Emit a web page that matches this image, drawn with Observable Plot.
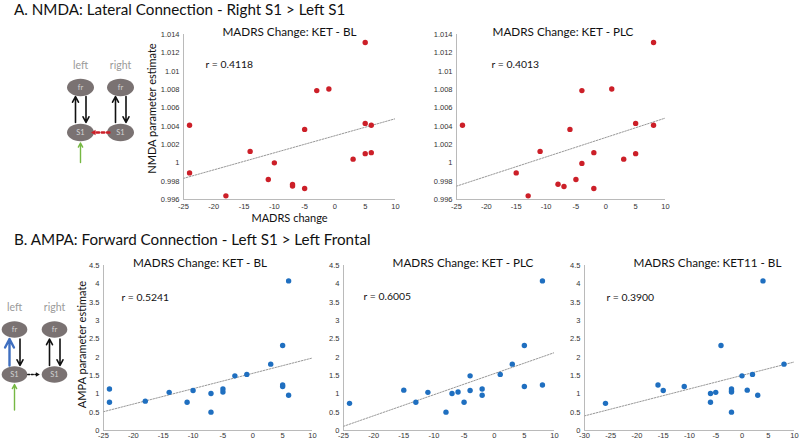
<!DOCTYPE html>
<html>
<head>
<meta charset="utf-8">
<script src="https://cdn.jsdelivr.net/npm/d3@7"></script>
<script src="https://cdn.jsdelivr.net/npm/@observablehq/plot@0.6"></script>
<style>
html, body { margin: 0; padding: 0; background: #fff; }
#fig { position: relative; width: 800px; height: 440px; overflow: hidden; background: #fff; font-family: Lato, sans-serif; }
.heading { position: absolute; left: 14px; font-size: 15.2px; line-height: 14px; color: #111; white-space: nowrap; font-family: Lato, sans-serif; }
</style>
</head>
<body>
<div id="fig"></div>
<script>
// ---------------- DATA ----------------
const headings = [
  "A. NMDA: Lateral Connection - Right S1 > Left S1",
  "B. AMPA: Forward Connection - Left S1 > Left Frontal"
];
const panelTitles = [
  "MADRS Change: KET - BL", "MADRS Change: KET - PLC",
  "MADRS Change: KET - BL", "MADRS Change: KET - PLC", "MADRS Change: KET11 - BL"
];
const rLabels = ["r = 0.4118", "r = 0.4013", "r = 0.5241", "r = 0.6005", "r = 0.3900"];
const yLabels = ["NMDA parameter estimate", "AMPA parameter estimate"];
const xLabel = "MADRS change";

const madrsTicks = [-25, -20, -15, -10, -5, 0, 5, 10];
const madrsTicksWide = [-30, -25, -20, -15, -10, -5, 0, 5, 10];
const nmdaTicks = [0.996, 0.998, 1, 1.002, 1.004, 1.006, 1.008, 1.01, 1.012, 1.014];
const ampaTicks = [0, 0.5, 1, 1.5, 2, 2.5, 3, 3.5, 4, 4.5];

// A. NMDA, KET - BL
const nmdaKetBL_madrs = [-24, -24, -18, -14, -11, -10, -7, -7, -5, -5, -3, -1, 3, 5, 5, 5, 6, 6];
const nmdaKetBL_param = [1.0041, 0.9989, 0.9964, 1.00125, 0.99819, 1.0, 0.99764, 0.99746, 0.9972, 1.00365, 1.00788, 1.00806, 1.0004, 1.01313, 1.0043, 1.0010, 1.0041, 1.00111];
// A. NMDA, KET - PLC
const nmdaKetPLC_madrs = [-24, -15, -13, -11, -8, -7, -6, -5, -4, -4, -2, -2, 1, 3, 5, 5, 8, 8];
const nmdaKetPLC_param = [1.0041, 0.9989, 0.9964, 1.00125, 0.99767, 0.99742, 1.00365, 0.99819, 1.00788, 0.99994, 1.00111, 0.9972, 1.00806, 1.0004, 1.0043, 1.0010, 1.01313, 1.0041];
// B. AMPA, KET - BL
const ampaKetBL_madrs = [-24, -24, -18, -14, -11, -10, -7, -7, -5, -5, -3, -1, 3, 5, 5, 5, 6, 6];
const ampaKetBL_param = [1.13, 0.77, 0.80, 1.04, 0.77, 1.09, 1.01, 0.50, 1.13, 1.05, 1.49, 1.53, 1.81, 2.32, 1.24, 1.20, 4.08, 0.96];
// B. AMPA, KET - PLC
const ampaKetPLC_madrs = [-24, -15, -13, -11, -8, -7, -6, -5, -4, -4, -2, -2, 1, 3, 5, 5, 8, 8];
const ampaKetPLC_param = [0.74, 1.10, 0.77, 1.04, 0.50, 1.01, 1.05, 0.77, 1.49, 1.09, 1.13, 0.96, 1.53, 1.81, 2.32, 1.20, 4.08, 1.24];
// B. AMPA, KET11 - BL
const ampaKet11BL_madrs = [-26, -16, -15, -11, -6, -6, -5, -4, -2, -2, -2, -2, 0, 1, 2, 3, 4, 8];
const ampaKet11BL_param = [0.74, 1.24, 1.09, 1.20, 1.01, 0.77, 1.04, 2.32, 1.13, 1.08, 1.05, 0.50, 1.49, 1.10, 1.53, 0.96, 4.08, 1.81];

// Network diagram: hemispheres, regions, connections
const hemispheres = ["left", "right"];
const regions = ["fr", "S1", "input"];
const diagramNodes = [["left", "fr"], ["left", "S1"], ["right", "fr"], ["right", "S1"]];
const edgesA = [
  {from: ["left", "S1"], to: ["left", "fr"], kind: "forward", highlight: false},
  {from: ["left", "fr"], to: ["left", "S1"], kind: "backward", highlight: false},
  {from: ["right", "S1"], to: ["right", "fr"], kind: "forward", highlight: false},
  {from: ["right", "fr"], to: ["right", "S1"], kind: "backward", highlight: false},
  {from: ["right", "S1"], to: ["left", "S1"], kind: "lateral", highlight: true},
  {from: ["left", "input"], to: ["left", "S1"], kind: "input", highlight: false}
];
const edgesB = [
  {from: ["left", "S1"], to: ["left", "fr"], kind: "forward", highlight: true},
  {from: ["left", "fr"], to: ["left", "S1"], kind: "backward", highlight: false},
  {from: ["right", "S1"], to: ["right", "fr"], kind: "forward", highlight: false},
  {from: ["right", "fr"], to: ["right", "S1"], kind: "backward", highlight: false},
  {from: ["left", "S1"], to: ["right", "S1"], kind: "lateral", highlight: false},
  {from: ["left", "input"], to: ["left", "S1"], kind: "input", highlight: false}
];

// ---------------- DRAWING ----------------
const fig = document.getElementById("fig");
const RED = "#cc1f28", BLUE = "#1f6fc0";

headings.forEach((h, i) => {
  const d = document.createElement("div");
  d.className = "heading";
  d.textContent = h;
  d.style.top = (i === 0 ? 2 : 231.5) + "px";
  fig.appendChild(d);
});

function place(svg, left, top) {
  svg.style.position = "absolute";
  svg.style.left = left + "px";
  svg.style.top = top + "px";
  fig.appendChild(svg);
}

function fmt(d) { return String(+d.toFixed(3)); }

function scatter(o) {
  const mL = 50, mR = o.mR ?? 12, mT = 30, mB = 32;
  const [fl, ft, fw, fh] = o.frame;
  const data = o.xs.map((x, i) => ({x, y: o.ys[i]}));
  const mx = d3.mean(o.xs), my = d3.mean(o.ys);
  const slope = d3.sum(o.xs, (x, i) => (x - mx) * (o.ys[i] - my)) / d3.sum(o.xs, x => (x - mx) ** 2);
  const fit = o.xDomain.map(x => ({x, y: my + slope * (x - mx)}));
  const marks = [
    Plot.line(fit, {x: "x", y: "y", stroke: "#8c8c8c", strokeWidth: 0.9, strokeDasharray: "1.6,1.4", clip: true}),
    Plot.ruleX([o.xDomain[0]], {stroke: "#a8a8a8", strokeWidth: 0.8}),
    Plot.ruleY([o.yDomain[0]], {stroke: "#a8a8a8", strokeWidth: 0.8}),
    Plot.dot(data, {x: "x", y: "y", r: 2.7, fill: o.color, stroke: "none"}),
    Plot.text([o.title], {frameAnchor: "top", textAnchor: "middle", dx: o.titleDx, dy: 1, lineAnchor: "bottom", fontSize: 11.7, fontFamily: "Lato", fill: "#111"}),
    Plot.text([o.r], {frameAnchor: "top-left", textAnchor: "start", lineAnchor: "bottom", dx: o.rDx, dy: o.rDy, fontSize: 10.4, fontFamily: "Lato", fill: "#111"})
  ];
  if (o.yLabel) marks.push(Plot.text([o.yLabel], {frameAnchor: "left", textAnchor: "middle", lineAnchor: "middle", rotate: -90, dx: o.yLabelDx, dy: o.yLabelDy, fontSize: 11, fontFamily: "Lato", fill: "#111"}));
  if (o.xLabel) marks.push(Plot.text([o.xLabel], {frameAnchor: "bottom", textAnchor: "middle", lineAnchor: "bottom", dy: 22, fontSize: 11, fontFamily: "Lato", fill: "#111"}));
  const svg = Plot.plot({
    width: fw + mL + mR, height: fh + mT + mB,
    marginLeft: mL, marginRight: mR, marginTop: mT, marginBottom: mB,
    x: {domain: o.xDomain, ticks: o.xTicks, tickFormat: d => String(d), tickSize: 0, tickPadding: o.xPad ?? 4, label: null},
    y: {domain: o.yDomain, ticks: o.yTicks, tickFormat: fmt, tickSize: 0, tickPadding: 4, label: null},
    style: {background: "transparent", overflow: "visible", fontFamily: "'Liberation Sans', Arial, sans-serif", fontSize: "7.5px", color: "#333"},
    marks
  });
  place(svg, fl - mL, ft - mT);
}

// ellipse symbol for brain-region nodes
const ellipseSymbol = {
  draw(ctx, size) {
    const rx = Math.sqrt(size / Math.PI), ry = rx * 0.64;
    const kx = rx * 0.5523, ky = ry * 0.5523;
    ctx.moveTo(rx, 0);
    ctx.bezierCurveTo(rx, ky, kx, ry, 0, ry);
    ctx.bezierCurveTo(-kx, ry, -rx, ky, -rx, 0);
    ctx.bezierCurveTo(-rx, -ky, -kx, -ry, 0, -ry);
    ctx.bezierCurveTo(kx, -ry, rx, -ky, rx, 0);
    ctx.closePath();
  }
};
// filled arrow head, tip at origin pointing +x
const headSymbol = {
  draw(ctx, size) {
    const s = Math.sqrt(size / Math.PI);
    ctx.moveTo(0, 0);
    ctx.lineTo(-s * 1.7, -s);
    ctx.lineTo(-s * 1.7, s);
    ctx.closePath();
  }
};

function diagram(o) {
  const nodes = diagramNodes.map(([h, r]) => ({h, r}));
  const marks = [];
  marks.push(Plot.dot(nodes, {x: "h", y: "r", r: o.rx, symbol: ellipseSymbol, fill: "#7a7272", stroke: "none"}));
  marks.push(Plot.text(nodes, {x: "h", y: "r", text: "r", fill: "#d4d4d4", fontSize: 7.5, fontFamily: "Lato"}));
  marks.push(Plot.text(hemispheres, {x: d => d, y: () => "fr", text: d => d, dy: -21.5, fill: "#9a9a9a", fontSize: 10.5, fontFamily: "Lato"}));
  for (const e of o.edges) {
    const base = {x1: () => e.from[0], y1: () => e.from[1], x2: () => e.to[0], y2: () => e.to[1]};
    if (e.kind === "forward" || e.kind === "backward") {
      const col = e.highlight ? o.hl : "#111";
      marks.push(Plot.arrow([e], {...base, dx: e.kind === "forward" ? -5 : 5.5,
        insetStart: e.kind === "forward" ? o.vIn[0] : o.vIn[1], insetEnd: e.kind === "forward" ? o.vIn[1] : o.vIn[0],
        stroke: col, strokeWidth: e.highlight ? 2.4 : 1.6, headLength: 6, headAngle: 55}));
    } else if (e.kind === "input") {
      marks.push(Plot.arrow([e], {...base, insetStart: o.inIn[0], insetEnd: o.inIn[1],
        stroke: "#76b843", strokeWidth: 1.4, headLength: 5, headAngle: 55}));
    } else if (e.kind === "lateral") {
      const col = e.highlight ? o.hl : "#111";
      const dir = hemispheres.indexOf(e.to[0]) > hemispheres.indexOf(e.from[0]) ? 1 : -1;
      marks.push(Plot.arrow([e], {...base, insetStart: o.latIn[0], insetEnd: o.latIn[1] + 4,
        stroke: col, strokeWidth: e.highlight ? 2.4 : 1.6, strokeDasharray: e.highlight ? "2.6,2.6" : "1.8,1.8", headLength: 0}));
      marks.push(Plot.dot([e], {x: () => e.to[0], y: () => e.to[1], dx: -dir * o.latIn[1],
        rotate: dir > 0 ? 0 : 180, symbol: headSymbol, r: e.highlight ? 2.7 : 2.3, fill: col, stroke: "none"}));
    }
  }
  const svg = Plot.plot({
    width: 150, height: 440, margin: 0,
    x: {type: "point", domain: hemispheres, range: o.xRange, padding: 0, axis: null},
    y: {type: "point", domain: regions, range: o.yRange, padding: 0, axis: null},
    style: {background: "transparent", overflow: "visible"},
    marks
  });
  place(svg, 0, 0);
}

diagram({edges: edgesA, hl: RED, rx: 13.5, xRange: [80, 120], yRange: [87, 177], vIn: [10, 9], inIn: [15, 10.5], latIn: [11, 10.5]});
diagram({edges: edgesB, hl: "#3f6fc0", rx: 12.8, xRange: [14, 54], yRange: [328.5, 419.5], vIn: [9, 9.5], inIn: [9.5, 10], latIn: [13.3, 14.7]});

scatter({frame: [183, 34, 212, 165], xs: nmdaKetBL_madrs, ys: nmdaKetBL_param, xDomain: [-25, 10], yDomain: [0.996, 1.014],
  xTicks: madrsTicks, yTicks: nmdaTicks, color: RED, title: panelTitles[0], titleDx: 0, r: rLabels[0], rDx: 22, rDy: 33,
  yLabel: yLabels[0], yLabelDx: -31, yLabelDy: -8.5, xLabel});
scatter({frame: [456, 34, 209, 165], xs: nmdaKetPLC_madrs, ys: nmdaKetPLC_param, xDomain: [-25, 10], yDomain: [0.996, 1.014],
  xTicks: madrsTicks, yTicks: nmdaTicks, color: RED, title: panelTitles[1], titleDx: 2, r: rLabels[1], rDx: 35, rDy: 33});
scatter({frame: [103, 265, 209, 165], xPad: 2, xs: ampaKetBL_madrs, ys: ampaKetBL_param, xDomain: [-25, 10], yDomain: [0, 4.5],
  xTicks: madrsTicks, yTicks: ampaTicks, color: BLUE, title: panelTitles[2], titleDx: -8, r: rLabels[2], rDx: 18, rDy: 35,
  yLabel: yLabels[1], yLabelDx: -21.5, yLabelDy: -3.5});
scatter({frame: [343, 265, 211, 165], xPad: 2, xs: ampaKetPLC_madrs, ys: ampaKetPLC_param, xDomain: [-25, 10], yDomain: [0, 4.5],
  xTicks: madrsTicks, yTicks: ampaTicks, color: BLUE, title: panelTitles[3], titleDx: 14, r: rLabels[3], rDx: 20, rDy: 34});
scatter({frame: [584, 265, 210, 165], mR: 6, xPad: 2, xs: ampaKet11BL_madrs, ys: ampaKet11BL_param, xDomain: [-30, 10], yDomain: [0, 4.5],
  xTicks: madrsTicksWide, yTicks: ampaTicks, color: BLUE, title: panelTitles[4], titleDx: 18, r: rLabels[4], rDx: 22, rDy: 35});
</script>
</body>
</html>
